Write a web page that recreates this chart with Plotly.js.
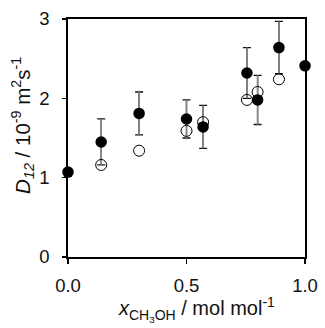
<!DOCTYPE html>
<html>
<head>
<meta charset="utf-8">
<script src="https://cdn.plot.ly/plotly-3.0.1.min.js"></script>
<style>
  body { margin: 0; padding: 0; background: #fff; }
  #chart { width: 325px; height: 328px; }
</style>
</head>
<body>
<div id="chart"></div>
<script>
// mole fraction of methanol
var xFilled = [0, 0.14, 0.30, 0.50, 0.57, 0.755, 0.80, 0.89, 1.0];
var dFilled = [1.07, 1.45, 1.81, 1.74, 1.64, 2.32, 1.98, 2.64, 2.41];
var errFilled = [0, 0.29, 0.27, 0.24, 0.27, 0.32, 0.31, 0.33, 0];

var xOpen = [0.14, 0.30, 0.50, 0.57, 0.755, 0.80, 0.89];
var dOpen = [1.16, 1.34, 1.59, 1.70, 1.98, 2.08, 2.24];

var xTicks = [0, 0.5, 1];
var xTickText = ["0.0", "0.5", "1.0"];
var yTicks = [0, 1, 2, 3];

var fnt = "Liberation Sans, Arial, sans-serif";

// caps in black, then gray stems drawn over them
var capsTrace = {
	x: xFilled, y: dFilled, type: "scatter", mode: "markers",
	marker: { size: 1, color: "rgba(0,0,0,0)" },
	error_y: { type: "data", array: errFilled, visible: true, color: "#111", thickness: 1.3, width: 4 },
	hoverinfo: "skip", cliponaxis: false
};
var stemTrace = {
	x: xFilled, y: dFilled, type: "scatter", mode: "markers",
	marker: { size: 1, color: "rgba(0,0,0,0)" },
	error_y: { type: "data", array: errFilled, visible: true, color: "#888", thickness: 1.6, width: 0 },
	hoverinfo: "skip", cliponaxis: false
};
var openTrace = {
	x: xOpen, y: dOpen, type: "scatter", mode: "markers",
	marker: { symbol: "circle-open", size: 11, color: "#000", line: { width: 1 } },
	cliponaxis: false
};
var filledTrace = {
	x: xFilled, y: dFilled, type: "scatter", mode: "markers",
	marker: { symbol: "circle", size: 11.5, color: "#000" },
	cliponaxis: false
};

// axis titles as annotations so they sit where the original has them
var titles = [
	{
		text: "<i>x</i><sub>CH<sub>3</sub>OH</sub> / mol mol<sup>-1</sup>",
		xref: "paper", yref: "paper", x: 0.544, y: -0.222, xanchor: "center", yanchor: "middle",
		showarrow: false, font: { size: 20 }
	},
	{
		text: "<i>D</i><sub><i>12</i></sub> / 10<sup>-9</sup> m<sup>2</sup>s<sup>-1</sup>",
		xref: "paper", yref: "paper", x: -0.19, y: 0.555, xanchor: "center", yanchor: "middle",
		textangle: -90, showarrow: false, font: { size: 20.5 }
	}
];

var layout = {
	width: 325, height: 328,
	margin: { l: 68, r: 20, t: 19, b: 71 },
	showlegend: false,
	paper_bgcolor: "#fff", plot_bgcolor: "#fff",
	font: { family: fnt, size: 18.5, color: "#111" },
	xaxis: {
		range: [0, 1], tickvals: xTicks, ticktext: xTickText,
		ticks: "outside", ticklen: 5, tickwidth: 1.5, tickcolor: "#000",
		showline: true, linecolor: "#000", linewidth: 1.7, mirror: true,
		showgrid: false, zeroline: false, ticklabelstandoff: 6
	},
	yaxis: {
		range: [0, 3], tickvals: yTicks,
		ticks: "outside", ticklen: 4, tickwidth: 1.5, tickcolor: "#000",
		showline: true, linecolor: "#000", linewidth: 1.7, mirror: true,
		showgrid: false, zeroline: false, ticklabelstandoff: 9
	},
	annotations: titles
};

Plotly.newPlot("chart", [capsTrace, stemTrace, openTrace, filledTrace], layout, { displayModeBar: false, staticPlot: true });
</script>
</body>
</html>
